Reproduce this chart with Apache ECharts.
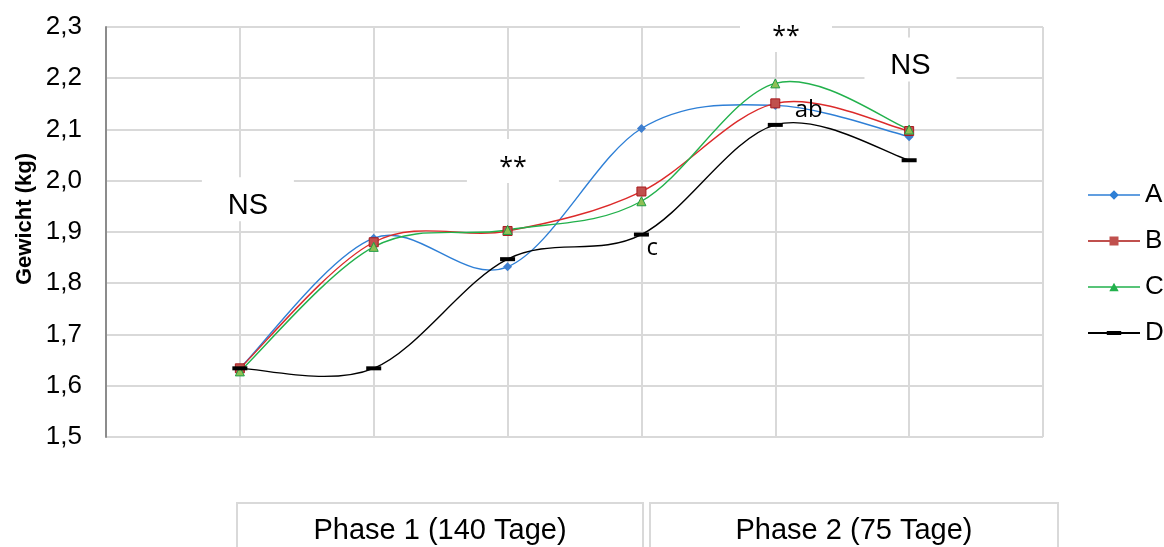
<!DOCTYPE html>
<html>
<head>
<meta charset="utf-8">
<script src="https://cdn.jsdelivr.net/npm/echarts@6/dist/echarts.min.js"></script>
<style>
  html, body { margin: 0; padding: 0; background: #fff; }
  #chart { width: 1164px; height: 547px; }
</style>
</head>
<body>
<div id="chart"></div>
<script>
// ---- data ----
const timePoints = [1, 2, 3, 4, 5, 6];
const seriesNames = ['A', 'B', 'C', 'D'];
const valuesA = [1.634, 1.888, 1.832, 2.102, 2.147, 2.086];
const valuesB = [1.634, 1.880, 1.902, 1.979, 2.151, 2.097];
const valuesC = [1.628, 1.871, 1.904, 1.960, 2.190, 2.100];
const valuesD = [1.634, 1.634, 1.847, 1.895, 2.109, 2.040];
const yMin = 1.5, yMax = 2.3, yStep = 0.1;
const sigTexts = ['NS', '**', '**', 'NS'];
// anchor = top centre of each white text box (axis units)
const sigAnchors = [[1.06, 2.007], [3.04, 2.0815], [5.08, 2.337], [6.01, 2.2795]];
const letterTexts = ['c', 'ab'];
const letterAnchors = [[4.08, 1.869], [5.25, 2.138]];
const phaseLabels = ['Phase 1 (140 Tage)', 'Phase 2 (75 Tage)'];
const yAxisTitle = 'Gewicht (kg)';

// ---- styles ----
const FONT = '"Liberation Sans", Arial, sans-serif';
const FONT2 = '"Open Sans", "Noto Sans", sans-serif';
const styles = {
  A: { line: '#2e7fd6', fill: '#3f7fcf', border: '#3f7fcf', symbol: 'diamond', size: 9, bw: 0 },
  B: { line: '#dc2a2a', fill: '#c0504d', border: '#a81a1e', symbol: 'rect', size: 9, bw: 1 },
  C: { line: '#22b14c', fill: '#8fbf55', border: '#1f9e45', symbol: 'triangle', size: 9, bw: 1 },
  D: { line: '#000000', fill: '#000000', border: '#000000', symbol: 'rect', size: [15, 4], bw: 0 }
};
const legendIcons = {
  A: 'path://M0,0L1,0L1,1Z M519,139L520,139L520,140Z M0,62L520,62L520,78L0,78Z M260,22L308,70L260,118L212,70Z',
  B: 'path://M0,0L1,0L1,1Z M519,139L520,139L520,140Z M0,61L520,61L520,79L0,79Z M215,25L305,25L305,115L215,115Z',
  C: 'path://M0,0L1,0L1,1Z M519,139L520,139L520,140Z M0,62L520,62L520,78L0,78Z M260,28L307,112L213,112Z',
  D: 'path://M0,0L1,0L1,1Z M519,139L520,139L520,140Z M0,61L520,61L520,79L0,79Z M188,50L332,50L332,90L188,90Z'
};
const valueSets = { A: valuesA, B: valuesB, C: valuesC, D: valuesD };

// Smoothed line (Catmull-Rom style, like the spreadsheet's smoothed lines),
// drawn segment by segment from the data through the axis scales.
function curveSeries(n) {
  const vals = valueSets[n];
  const s = styles[n];
  return {
    name: n,
    type: 'custom',
    silent: true,
    z: 3,
    data: timePoints.map((t, i) => [t, vals[i]]),
    encode: { x: 0, y: 1 },
    renderItem: (params, api) => {
      const i = params.dataIndex;
      const k = vals.length;
      if (i >= k - 1) return null;
      const P = (j) => {
        j = Math.max(0, Math.min(k - 1, j));
        return api.coord([timePoints[j], vals[j]]);
      };
      const p0 = P(i - 1), p1 = P(i), p2 = P(i + 1), p3 = P(i + 2);
      return {
        type: 'bezierCurve',
        shape: {
          x1: p1[0], y1: p1[1], x2: p2[0], y2: p2[1],
          cpx1: p1[0] + (p2[0] - p0[0]) / 6, cpy1: p1[1] + (p2[1] - p0[1]) / 6,
          cpx2: p2[0] - (p3[0] - p1[0]) / 6, cpy2: p2[1] - (p3[1] - p1[1]) / 6
        },
        style: { stroke: s.line, lineWidth: 1.4, fill: 'none' }
      };
    },
    animation: false
  };
}

function markerSeries(n) {
  const s = styles[n];
  return {
    name: n,
    type: 'scatter',
    silent: true,
    z: 3,
    data: timePoints.map((t, i) => [t, valueSets[n][i]]),
    symbol: s.symbol,
    symbolSize: s.size,
    itemStyle: { color: s.fill, borderColor: s.border, borderWidth: s.bw, opacity: 1 },
    animation: false
  };
}

const dataSeries = [];
seriesNames.forEach((n) => { dataSeries.push(curveSeries(n)); dataSeries.push(markerSeries(n)); });

// significance marks: white text boxes (covering grid lines) with text
const sigSeries = {
  name: 'sig',
  type: 'custom',
  silent: true,
  clip: false,
  z: 2,
  data: sigAnchors.map((a) => a.slice()),
  encode: { x: 0, y: 1 },
  renderItem: (params, api) => {
    const i = params.dataIndex;
    const p = api.coord(sigAnchors[i]);
    const t = sigTexts[i];
    const font = t === 'NS' ? '29px ' + FONT : '25px ' + FONT2;
    return {
      type: 'group',
      children: [
        { type: 'rect', shape: { x: p[0] - 46, y: p[1], width: 92, height: 44 }, style: { fill: '#ffffff' } },
        { type: 'text', x: p[0], y: p[1] + 28.5,
          style: { text: t, font: font, fill: '#000000', align: 'center', verticalAlign: 'middle', textAlign: 'center', textVerticalAlign: 'middle' } }
      ]
    };
  },
  animation: false
};

const letterSeries = {
  name: 'letters',
  type: 'custom',
  silent: true,
  clip: false,
  z: 4,
  data: letterAnchors.map((a) => a.slice()),
  encode: { x: 0, y: 1 },
  renderItem: (params, api) => {
    const i = params.dataIndex;
    const p = api.coord(letterAnchors[i]);
    return {
      type: 'text', x: p[0], y: p[1],
      style: { text: letterTexts[i], font: '24px ' + FONT2, fill: '#000000', align: 'center', verticalAlign: 'middle', textAlign: 'center', textVerticalAlign: 'middle' }
    };
  },
  animation: false
};

const chart = echarts.init(document.getElementById('chart'), null, { renderer: 'canvas' });
chart.setOption({
  animation: false,
  backgroundColor: '#ffffff',
  grid: { left: 106, right: 121, top: 27, bottom: 110, containLabel: false },
  xAxis: {
    type: 'value',
    min: 0, max: 7, interval: 1,
    axisLine: { show: false },
    axisTick: { show: false },
    axisLabel: { show: false },
    splitLine: { show: true, lineStyle: { color: '#d9d9d9', width: 2 } }
  },
  yAxis: {
    type: 'value',
    min: yMin, max: yMax, interval: yStep,
    axisLine: { show: true, lineStyle: { color: '#8c8c8c', width: 2 } },
    axisTick: { show: false },
    axisLabel: {
      color: '#000', fontFamily: FONT, fontSize: 26, margin: 24,
      formatter: (v) => v.toFixed(1).replace('.', ',')
    },
    splitLine: { show: true, lineStyle: { color: '#d9d9d9', width: 2 } }
  },
  legend: {
    orient: 'vertical',
    left: 1088,
    top: 182,
    padding: 0,
    itemWidth: 52,
    itemHeight: 14,
    itemGap: 20,
    selectedMode: false,
    textStyle: { color: '#000', fontFamily: FONT, fontSize: 26, lineHeight: 14 },
    itemStyle: { borderWidth: 0 },
    data: seriesNames.map((n) => ({
      name: n,
      icon: legendIcons[n],
      itemStyle: { color: n === 'B' ? '#c0504d' : styles[n].line, borderWidth: 0 }
    }))
  },
  graphic: [
    {
      type: 'text', x: 25, y: 219, rotation: Math.PI / 2,
      style: { text: yAxisTitle, font: 'bold 22px ' + FONT, fill: '#000', align: 'center', verticalAlign: 'middle', textAlign: 'center', textVerticalAlign: 'middle' }
    },
    {
      type: 'rect', shape: { x: 237, y: 503, width: 406, height: 60 },
      style: { fill: 'none', stroke: '#d9d9d9', lineWidth: 2 }
    },
    {
      type: 'rect', shape: { x: 650, y: 503, width: 408, height: 60 },
      style: { fill: 'none', stroke: '#d9d9d9', lineWidth: 2 }
    },
    {
      type: 'text', x: 440, y: 531,
      style: { text: phaseLabels[0], font: '29px ' + FONT, fill: '#000', align: 'center', verticalAlign: 'middle', textAlign: 'center', textVerticalAlign: 'middle' }
    },
    {
      type: 'text', x: 854, y: 531,
      style: { text: phaseLabels[1], font: '29px ' + FONT, fill: '#000', align: 'center', verticalAlign: 'middle', textAlign: 'center', textVerticalAlign: 'middle' }
    }
  ],
  series: [sigSeries].concat(dataSeries).concat([letterSeries])
});
</script>
</body>
</html>
